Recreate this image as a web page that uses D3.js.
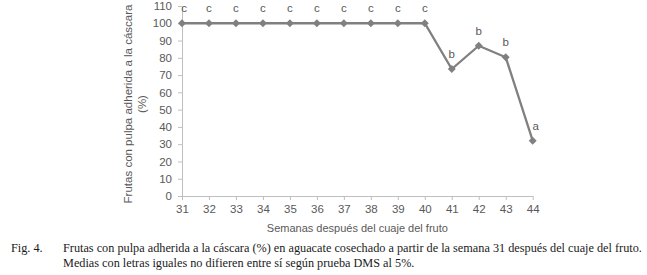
<!DOCTYPE html>
<html>
<head>
<meta charset="utf-8">
<script src="https://cdn.jsdelivr.net/npm/d3@7"></script>
<style>
  body { margin: 0; background: #fff; }
</style>
</head>
<body>
<div class="chart"></div>
<script>
//Chart data.
var weeks = [31, 32, 33, 34, 35, 36, 37, 38, 39, 40, 41, 42, 43, 44];
var values = [100, 100, 100, 100, 100, 100, 100, 100, 100, 100, 73.5, 87, 80.3, 32];
var letters = ["c", "c", "c", "c", "c", "c", "c", "c", "c", "c", "b", "b", "b", "a"];
var yTicks = [0, 10, 20, 30, 40, 50, 60, 70, 80, 90, 100, 110];
var captionLines = [
  "Frutas con pulpa adherida a la cáscara (%) en aguacate cosechado a partir de la semana 31 después del cuaje del fruto.",
  "Medias con letras iguales no difieren entre sí según prueba DMS al 5%."
];

var svgWidth = 647;
var svgHeight = 275;

var svg = d3.select(".chart")
  .append("svg")
  .attr("width", svgWidth)
  .attr("height", svgHeight);

//Plot area in page pixels.
var x = d3.scaleLinear().domain([31, 44]).range([182, 532.7]);
var y = d3.scaleLinear().domain([0, 110]).range([196, 6]);

var axisColor = "#bfbfbf";
var textColor = "#595959";

//Axes.
var gx = svg.append("g")
  .attr("transform", "translate(0," + y(0) + ")")
  .call(d3.axisBottom(x).tickValues(weeks).tickFormat(d3.format("d")).tickSizeInner(4).tickSizeOuter(0).tickPadding(5));

var gy = svg.append("g")
  .attr("transform", "translate(" + x(31) + ",0)")
  .call(d3.axisLeft(y).tickValues(yTicks).tickSizeInner(4).tickSizeOuter(0).tickPadding(6));

[gx, gy].forEach(function(g) {
  g.select(".domain").attr("stroke", axisColor);
  g.selectAll(".tick line").attr("stroke", axisColor);
  g.selectAll(".tick text")
    .attr("fill", textColor)
    .style("font-family", "'Liberation Sans', Arial, sans-serif")
    .style("font-size", "11.5px");
});

//Axis titles.
svg.append("text")
  .attr("x", x(37.5))
  .attr("y", 232)
  .attr("text-anchor", "middle")
  .attr("fill", textColor)
  .style("font-family", "'Liberation Sans', Arial, sans-serif")
  .style("font-size", "11px")
  .text("Semanas después del cuaje del fruto");

var yTitle = svg.append("text")
  .attr("transform", "translate(132," + 104 + ") rotate(-90)")
  .attr("text-anchor", "middle")
  .attr("fill", textColor)
  .style("font-family", "'Liberation Sans', Arial, sans-serif")
  .style("font-size", "11.5px");
yTitle.append("tspan").attr("x", 0).attr("y", 0).text("Frutas con pulpa adherida a la cáscara");
yTitle.append("tspan").attr("x", 0).attr("y", 14).text("(%)");

//Line and markers.
var line = d3.line()
  .x(function(d, i) { return x(weeks[i]); })
  .y(function(d) { return y(d); });

svg.append("path")
  .datum(values)
  .attr("d", line)
  .attr("fill", "none")
  .attr("stroke", "#808080")
  .attr("stroke-width", 2.3);

svg.selectAll(".marker")
  .data(values)
  .enter().append("path")
  .attr("class", "marker")
  .attr("d", d3.symbol().type(d3.symbolDiamond2).size(40))
  .attr("transform", function(d, i) { return "translate(" + x(weeks[i]) + "," + y(d) + ")"; })
  .attr("fill", "#808080");

//Significance letters.
svg.selectAll(".letter")
  .data(values)
  .enter().append("text")
  .attr("class", "letter")
  .attr("x", function(d, i) { return x(weeks[i]) + (i === 0 ? 2 : 0) + (i === 13 ? 3 : 0); })
  .attr("y", function(d) { return y(d) - 11; })
  .attr("text-anchor", "middle")
  .attr("fill", textColor)
  .style("font-family", "'Liberation Sans', Arial, sans-serif")
  .style("font-size", "11.5px")
  .text(function(d, i) { return letters[i]; });

//Caption.
var cap = svg.append("g")
  .style("font-family", "'Liberation Serif', 'Times New Roman', serif")
  .style("font-size", "12.25px")
  .attr("fill", "#1a1a1a");

cap.append("text").attr("x", 11).attr("y", 252).text("Fig. 4.");
cap.selectAll(".cap")
  .data(captionLines)
  .enter().append("text")
  .attr("class", "cap")
  .attr("x", 63)
  .attr("y", function(d, i) { return 252 + i * 15; })
  .text(function(d) { return d; });
</script>
</body>
</html>
